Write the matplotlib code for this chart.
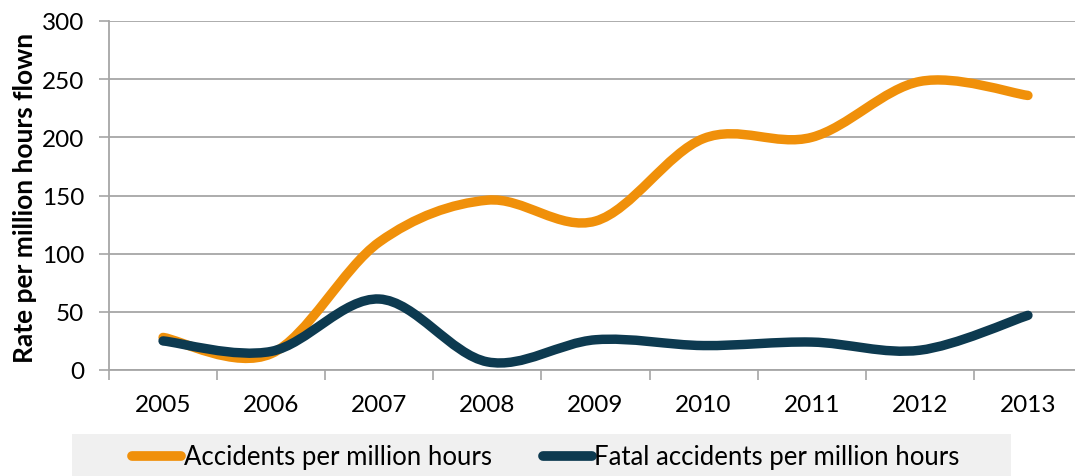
import numpy as np
import matplotlib
matplotlib.use('Agg')
import matplotlib.pyplot as plt
from matplotlib.path import Path
from matplotlib.patches import PathPatch, Rectangle
from matplotlib.lines import Line2D

plt.rcParams['font.family'] = ['Lato', 'DejaVu Sans']

# data
years = ['2005', '2006', '2007', '2008', '2009', '2010', '2011', '2012', '2013']
accidents = [28, 14, 110, 146, 128, 199, 200, 248, 236]
fatal = [25, 16, 61, 7, 26, 21, 24, 17, 47]

orange = '#F0900A'
navy = '#0D3A50'
grid_col = '#A6A6A6'


def smooth_path(xs, ys):
    # Excel style smoothed line: cubic bezier, control points from neighbours / 6
    pts = np.column_stack([xs, ys]).astype(float)
    n = len(pts)
    verts = [pts[0]]
    codes = [Path.MOVETO]
    for i in range(n - 1):
        p0 = pts[max(i - 1, 0)]
        p1 = pts[i]
        p2 = pts[i + 1]
        p3 = pts[min(i + 2, n - 1)]
        verts += [p1 + (p2 - p0) / 6, p2 - (p3 - p1) / 6, p2]
        codes += [Path.CURVE4] * 3
    return Path(verts, codes)


fig = plt.figure(figsize=(10.75, 4.77), dpi=100)
ax = fig.add_axes([109 / 1075, 106 / 477, (1082 - 109) / 1075, 349 / 477])

x = np.arange(len(years))
for vals, col in [(accidents, orange), (fatal, navy)]:
    patch = PathPatch(smooth_path(x, vals), facecolor='none', edgecolor=col,
                      lw=6.8, capstyle='round', joinstyle='round', zorder=3)
    ax.add_patch(patch)

ax.set_xlim(-0.5, len(years) - 0.5)
ax.set_ylim(0, 300)
ax.set_yticks(np.arange(0, 301, 50))
ax.set_xticks(x)
ax.set_xticklabels(years)
ax.set_xticks(np.arange(-0.5, len(years), 1), minor=True)
ax.tick_params(axis='x', which='major', length=0, pad=17, labelsize=17.5)
ax.tick_params(axis='x', which='minor', length=7, width=1.2, color=grid_col, direction='out')
ax.tick_params(axis='y', length=7, width=1.2, color=grid_col, labelsize=17.5, pad=11)
ax.grid(axis='y', color=grid_col, lw=1.3, zorder=0)
ax.set_axisbelow(True)
for s in ['top', 'right']:
    ax.spines[s].set_visible(False)
for s in ['left', 'bottom']:
    ax.spines[s].set_color(grid_col)
    ax.spines[s].set_linewidth(1.3)

fig.text(25 / 1075, 1 - 198 / 477, 'Rate per million hours flown', rotation=90,
         ha='center', va='center', fontsize=19, fontweight='bold')

# legend band
fig.patches.append(Rectangle((72 / 1075, 0), (1011 - 72) / 1075, 42 / 477,
                             transform=fig.transFigure, facecolor='#F0F0F0',
                             edgecolor='none', zorder=0))
handles = [Line2D([], [], color=orange, lw=7, solid_capstyle='round'),
           Line2D([], [], color=navy, lw=7, solid_capstyle='round')]
fig.legend(handles, ['Accidents per million hours', 'Fatal accidents per million hours'],
           loc='center', bbox_to_anchor=(546 / 1075, 1 - 458 / 477), ncol=2,
           frameon=False, fontsize=18.5, handlelength=1.9, handletextpad=0.1,
           columnspacing=2.0)

fig.savefig('out.png', dpi=100)
